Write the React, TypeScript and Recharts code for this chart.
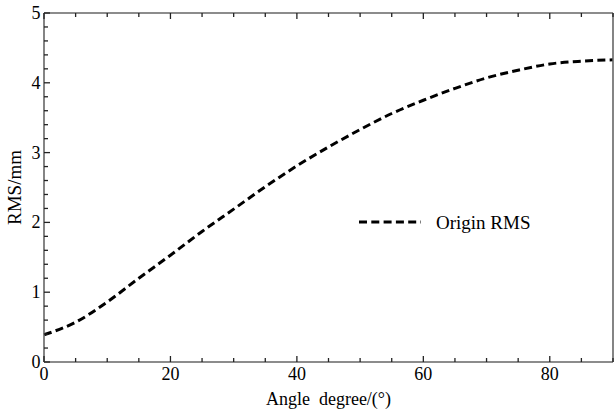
import React from 'react';
import { LineChart, Line, XAxis, YAxis, Legend } from 'recharts';

const angles = [0, 5, 10, 15, 20, 25, 30, 35, 40, 45, 50, 55, 60, 65, 70, 75, 80, 85, 90];
const rmsValues = [0.39, 0.57, 0.86, 1.2, 1.53, 1.87, 2.19, 2.51, 2.81, 3.08, 3.33, 3.56, 3.75, 3.92, 4.07, 4.18, 4.27, 4.31, 4.33];
const xTicks = [0, 5, 10, 15, 20, 25, 30, 35, 40, 45, 50, 55, 60, 65, 70, 75, 80, 85, 90];
const xLabelTicks = [0, 20, 40, 60, 80];
const yTicks = [0, 0.2, 0.4, 0.6, 0.8, 1, 1.2, 1.4, 1.6, 1.8, 2, 2.2, 2.4, 2.6, 2.8, 3, 3.2, 3.4, 3.6, 3.8, 4, 4.2, 4.4, 4.6, 4.8, 5];
const yLabelTicks = [0, 1, 2, 3, 4, 5];
const seriesName = 'Origin RMS';
const xTitle = 'Angle  degree/(°)';
const yTitle = 'RMS/mm';

const data = angles.map((a, i) => ({ angle: a, rms: rmsValues[i] }));

const FONT = '"Liberation Serif"';
const AXIS = '#666';
const TICK = '#222';

const isLabelled = (v: number, list: number[]) => list.some((t) => Math.abs(t - v) < 1e-6);

const BottomTick = (props: any) => {
  const { x, y, payload } = props;
  const v = payload.value;
  const major = isLabelled(v, xLabelTicks);
  return (
    <g>
      <line x1={x} x2={x} y1={y} y2={y - (major ? 6 : 4)} stroke={TICK} strokeWidth={1.3} />
      {major ? (
        <text x={x} y={y + 18} textAnchor="middle" style={{ fontFamily: FONT, fontSize: 18 }} fill="#000">
          {v}
        </text>
      ) : null}
    </g>
  );
};

const TopTick = (props: any) => {
  const { x, y, payload } = props;
  const major = isLabelled(payload.value, xLabelTicks);
  return (
    <g>
      <line x1={x} x2={x} y1={y} y2={y + (major ? 6 : 4)} stroke={TICK} strokeWidth={1.3} />
    </g>
  );
};

const LeftTick = (props: any) => {
  const { x, y, payload } = props;
  const v = payload.value;
  const major = isLabelled(v, yLabelTicks);
  return (
    <g>
      <line x1={x} x2={x + (major ? 6 : 4)} y1={y} y2={y} stroke={TICK} strokeWidth={1.3} />
      {major ? (
        <text x={x - 3.5} y={y + 6} textAnchor="end" style={{ fontFamily: FONT, fontSize: 18 }} fill="#000">
          {Math.round(v)}
        </text>
      ) : null}
    </g>
  );
};

const RightTick = (props: any) => {
  const { x, y, payload } = props;
  const major = isLabelled(payload.value, yLabelTicks);
  return (
    <g>
      <line x1={x} x2={x - (major ? 6 : 4)} y1={y} y2={y} stroke={TICK} strokeWidth={1.3} />
    </g>
  );
};

const XTitle = (props: any) => {
  const { viewBox } = props;
  const cx = viewBox.x + viewBox.width / 2;
  return (
    <text x={cx} y={405} textAnchor="middle" style={{ fontFamily: FONT, fontSize: 18, whiteSpace: 'pre' }} fill="#000">
      {xTitle}
    </text>
  );
};

const YTitle = (props: any) => {
  const { viewBox } = props;
  const cy = viewBox.y + viewBox.height / 2;
  return (
    <text x={21} y={cy} textAnchor="middle" style={{ fontFamily: FONT, fontSize: 19 }} fill="#000" transform={`rotate(-90 21 ${cy})`}>
      {yTitle}
    </text>
  );
};

const LegendContent = () => (
  <svg width={220} height={30} style={{ display: 'block' }}>
    <line x1={4} x2={66} y1={11} y2={11} stroke="#000" strokeWidth={3} strokeDasharray="8 4.3" />
    <text x={81} y={18} style={{ fontFamily: FONT, fontSize: 19 }} fill="#000">
      {seriesName}
    </text>
  </svg>
);

export default function App() {
  return (
    <div style={{ position: 'absolute', left: 0, top: 0, width: 614, height: 413, background: '#fff' }}>
      <LineChart width={614} height={413} data={data} margin={{ top: 0, right: 0, bottom: 0, left: 0 }}>
        <XAxis
          xAxisId="bottom"
          dataKey="angle"
          type="number"
          domain={[0, 90]}
          ticks={xTicks}
          interval={0}
          height={51}
          tickSize={0}
          tickMargin={0}
          tickLine={false}
          axisLine={{ stroke: AXIS, strokeWidth: 1.6 }}
          tick={<BottomTick />}
          label={<XTitle />}
        />
        <XAxis
          xAxisId="top"
          orientation="top"
          dataKey="angle"
          type="number"
          domain={[0, 90]}
          ticks={xTicks}
          interval={0}
          height={13}
          tickSize={0}
          tickMargin={0}
          tickLine={false}
          axisLine={{ stroke: AXIS, strokeWidth: 1.6 }}
          tick={<TopTick />}
        />
        <YAxis
          yAxisId="left"
          type="number"
          domain={[0, 5]}
          ticks={yTicks}
          interval={0}
          width={44}
          tickSize={0}
          tickMargin={0}
          tickLine={false}
          axisLine={{ stroke: AXIS, strokeWidth: 1.6 }}
          tick={<LeftTick />}
          label={<YTitle />}
        />
        <YAxis
          yAxisId="right"
          orientation="right"
          type="number"
          domain={[0, 5]}
          ticks={yTicks}
          interval={0}
          width={1}
          tickSize={0}
          tickMargin={0}
          tickLine={false}
          axisLine={{ stroke: AXIS, strokeWidth: 1.6 }}
          tick={<RightTick />}
        />
        <Legend
          layout="vertical"
          align="center"
          verticalAlign="middle"
          content={<LegendContent />}
          wrapperStyle={{ position: 'absolute', left: 355, top: 211, width: 220 }}
        />
        <Line
          xAxisId="bottom"
          yAxisId="left"
          type="monotone"
          dataKey="rms"
          name={seriesName}
          stroke="#000"
          strokeWidth={3}
          strokeDasharray="8 4.3"
          dot={false}
          isAnimationActive={false}
        />
      </LineChart>
    </div>
  );
}
